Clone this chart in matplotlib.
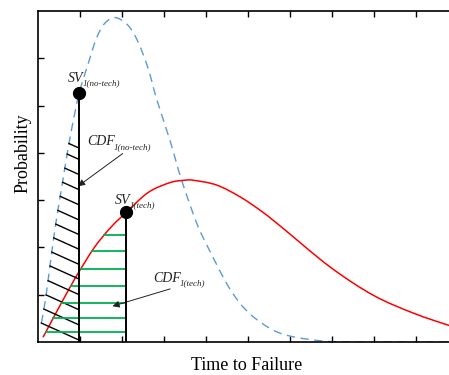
import numpy as np
import matplotlib
matplotlib.use("Agg")
import matplotlib.pyplot as plt
from matplotlib.path import Path
from matplotlib.patches import PathPatch

# ---- data ----
blue_x = [0.08, 0.16, 0.24, 0.32, 0.44, 0.58, 0.68, 0.80, 0.98, 1.20, 1.39, 1.59, 1.84,
          2.14, 2.38, 2.62, 2.83, 3.14, 3.42, 3.78, 4.02, 4.49, 4.81, 5.13, 5.60,
          6.08, 6.80, 7.50, 8.50, 10.0]
blue_y = [0.40, 0.80, 1.30, 1.85, 2.60, 3.35, 3.90, 4.50, 5.26, 5.90, 6.42, 6.74, 6.86,
          6.70, 6.35, 5.79, 5.12, 4.27, 3.42, 2.51, 2.05, 1.24, 0.82, 0.53, 0.25,
          0.11, 0.02, 0.0, 0.0, 0.0]

red_x = [0.12, 0.48, 0.79, 0.98, 1.35, 1.75, 2.10, 2.62, 3.14, 3.49, 3.70, 4.25,
         4.81, 5.36, 5.84, 6.95, 7.98, 8.94, 9.79, 10.0]
red_y = [0.10, 0.70, 1.20, 1.49, 2.01, 2.44, 2.74, 3.16, 3.37, 3.42, 3.42, 3.32,
         3.07, 2.74, 2.40, 1.59, 0.99, 0.61, 0.35, 0.31]

sv_notech = (0.98, 5.26)
sv_tech = (2.10, 2.74)

hatch_right_y = [0.04, 0.36, 0.68, 1.00, 1.33, 1.64, 1.96, 2.27, 2.58, 2.90, 3.22, 3.54, 3.86, 4.10]
green_y = [0.21, 0.50, 0.83, 1.18, 1.54, 1.93, 2.26]

xticks = [1, 2, 3, 4, 5, 6, 7, 8, 9]
yticks = [1, 2, 3, 4, 5, 6]


def smooth_path(xs, ys):
    """Catmull-Rom curve through the read points, as a cubic Bezier path."""
    P = np.column_stack([xs, ys]).astype(float)
    n = len(P)
    verts = [P[0]]
    codes = [Path.MOVETO]
    for i in range(n - 1):
        p0 = P[i - 1] if i > 0 else P[i]
        p1 = P[i]
        p2 = P[i + 1]
        p3 = P[i + 2] if i + 2 < n else P[i + 1]
        c1 = p1 + (p2 - p0) / 6.0
        c2 = p2 - (p3 - p1) / 6.0
        verts += [c1, c2, p2]
        codes += [Path.CURVE4] * 3
    return Path(np.array(verts), codes)


def dense(path):
    pts = path.to_polygons(closed_only=False)[0]
    return pts[:, 0], pts[:, 1]


# ---- figure ----
plt.rcParams['font.family'] = ['Liberation Serif', 'DejaVu Serif']
fig = plt.figure(figsize=(4.49, 3.75), dpi=100)
ax = fig.add_axes([38 / 449, 33 / 375, 420 / 449, 331 / 375])
ax.set_xlim(0, 10)
ax.set_ylim(0, 7)

blue_c = '#5B9BD5'
bpath = smooth_path(blue_x, blue_y)
rpath = smooth_path(red_x, red_y)
ax.add_patch(PathPatch(bpath, fill=False, edgecolor=blue_c, lw=1.0,
                       linestyle=(0, (6, 4)), zorder=2))
ax.add_patch(PathPatch(rpath, fill=False, edgecolor='red', lw=1.1, zorder=2))

# black hatching under the no-tech curve
bx, by = dense(bpath)
slope = 0.40
xs = np.linspace(blue_x[0], sv_notech[0], 600)
bl = np.interp(xs, bx, by)
for yr in hatch_right_y:
    line = yr + slope * (sv_notech[0] - xs)
    inside = bl >= line
    if not inside.any():
        continue
    x0 = xs[np.argmax(inside)]
    ax.plot([x0, sv_notech[0]], [yr + slope * (sv_notech[0] - x0), yr],
            color='black', lw=1.0, zorder=3)

# green hatching under the tech curve
rx, ry = dense(rpath)
up = rx <= 3.5
for yg in green_y:
    x0 = np.interp(yg, ry[up], rx[up])
    ax.plot([x0, sv_tech[0]], [yg, yg], color='#00B050', lw=1.3, zorder=3)

# vertical lines & points
ax.plot([sv_notech[0], sv_notech[0]], [0, sv_notech[1]], color='black', lw=1.4, zorder=4)
ax.plot([sv_tech[0], sv_tech[0]], [0, sv_tech[1]], color='black', lw=1.4, zorder=4)
ax.plot([sv_notech[0], sv_tech[0]], [sv_notech[1], sv_tech[1]], 'o', color='black',
        ms=8.5, ls='none', zorder=5)

# annotations (main text + subscript placed right after it)
fig.canvas.draw()
renderer = fig.canvas.get_renderer()


def label(x, y, main, sub):
    t = ax.text(x, y, main, fontsize=10, style='italic', ha='left', va='baseline',
                color='#222222')
    w = t.get_window_extent(renderer).width * 72.0 / fig.dpi
    ax.annotate(sub, xy=(x, y), xycoords='data', xytext=(w - 1.0, -2.5),
                textcoords='offset points', fontsize=6.5, style='italic',
                ha='left', va='baseline', color='#222222')


label(0.72, 5.50, 'SV', '1(no-tech)')
label(1.17, 4.16, 'CDF', '1(no-tech)')
label(1.84, 2.92, 'SV', '1(tech)')
label(2.74, 1.27, 'CDF', '1(tech)')

arrow_kw = dict(arrowstyle='-|>', color='#222222', lw=0.7, mutation_scale=10)
ax.annotate('', xy=(0.90, 3.26), xytext=(2.07, 4.02), arrowprops=arrow_kw)
ax.annotate('', xy=(1.71, 0.74), xytext=(3.21, 1.14), arrowprops=arrow_kw)

# axes styling
ax.set_xticks(xticks)
ax.set_yticks(yticks)
ax.set_xticklabels([])
ax.set_yticklabels([])
ax.tick_params(direction='in', length=4, width=1.0, top=True, right=False)
for s in ['left', 'bottom', 'top']:
    ax.spines[s].set_linewidth(1.2)
ax.spines['right'].set_visible(False)

fig.text(247 / 449, 1 - 366 / 375, 'Time to Failure', fontsize=13, ha='center', va='center')
fig.text(23 / 449, 1 - 153 / 375, 'Probability', fontsize=13, ha='center', va='center',
         rotation=90)

fig.savefig('out.png', dpi=100)
